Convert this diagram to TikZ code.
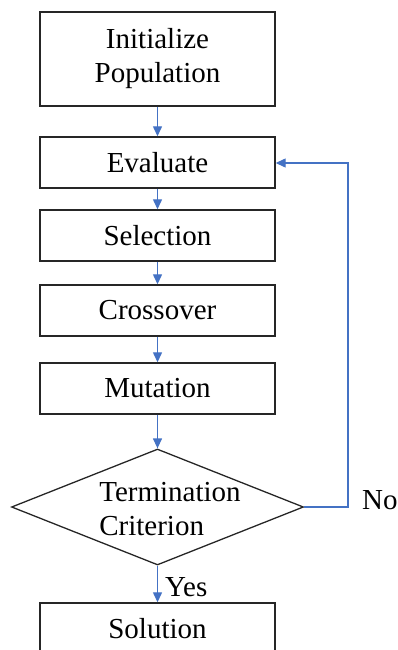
\documentclass[tikz,border=0pt]{standalone}
\usepackage{fontspec}
\setmainfont{Liberation Serif}
\usetikzlibrary{shapes.geometric,arrows.meta}
\definecolor{flowblue}{HTML}{4472C4}
\begin{document}
\begin{tikzpicture}[x=1pt,y=-1pt,
  stepbox/.style={draw=black!85,line width=1.4pt,minimum width=235pt,inner sep=0pt,align=center,font=\fontsize{29}{34}\selectfont},
  decision/.style={diamond,draw=black!85,line width=1.3pt,minimum width=292pt,minimum height=116pt,inner sep=0pt},
  flow/.style={draw=flowblue,line width=1.3pt,-{Triangle[length=10pt,width=9pt]}},
  tag/.style={font=\fontsize{29}{34}\selectfont,inner sep=0pt}]
\useasboundingbox (0,0) rectangle (398,650);
\clip (0,0) rectangle (398,650);

\node[stepbox,minimum height=94pt] (init) at (157.5,59) {Initialize\\Population};
\node[stepbox,minimum height=51pt] (eval) at (157.5,162.5) {Evaluate};
\node[stepbox,minimum height=51pt] (sel) at (157.5,235.5) {Selection};
\node[stepbox,minimum height=51pt] (cross) at (157.5,310.5) {Crossover};
\node[stepbox,minimum height=51pt] (mut) at (157.5,388.5) {Mutation};
\node[decision] (crit) at (157.5,507) {};
\node[tag,align=left] (critlabel) at (170,509) {Termination\\Criterion};
\node[stepbox,minimum height=51pt] (sol) at (157.5,628.5) {Solution};

\coordinate (turn1) at (348,507);
\coordinate (turn2) at (348,163);

\draw[flow] (init) -- (eval);
\draw[flow] (eval) -- (sel);
\draw[flow] (sel) -- (cross);
\draw[flow] (cross) -- (mut);
\draw[flow] (mut) -- (crit);
\draw[flow] (crit) -- (sol);
\draw[flow] (crit.east) -- (turn1) -- (turn2) -- (eval.east |- turn2);

\node[tag,anchor=west] (yes) at (165,587) {Yes};
\node[tag,anchor=west] (no) at (362,500) {No};
\end{tikzpicture}
\end{document}
